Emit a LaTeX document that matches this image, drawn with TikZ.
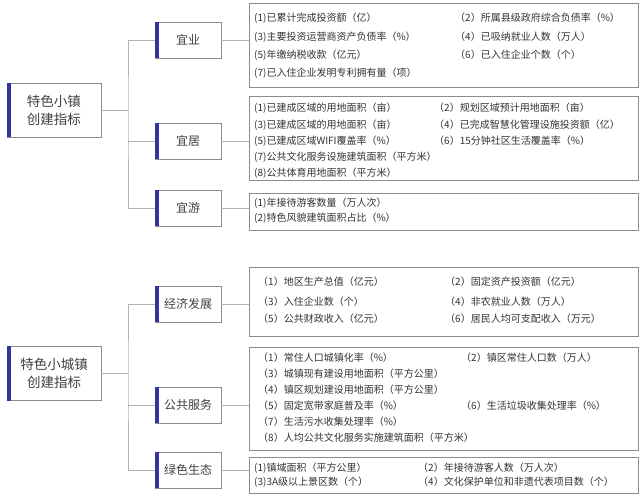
\documentclass[tikz,border=0pt]{standalone}
\usepackage{fontspec}
\setmainfont{Noto Sans CJK SC}
\begin{document}
\begin{tikzpicture}[x=1pt,y=-1pt,
  lnk/.style={draw=black!30,line width=0.8pt},
  cat/.style={draw=black!45,line width=0.6pt,fill=white,minimum width=66pt,minimum height=36pt,inner sep=0pt,font=\fontsize{12}{13}\selectfont,text=black!75},
  rootn/.style={draw=black!45,line width=0.6pt,fill=white,minimum width=94pt,inner sep=0pt,align=center,font=\fontsize{13.5}{18}\selectfont,text=black!75},
  det/.style={draw=black!45,line width=0.8pt,inner sep=0pt},
  it/.style={anchor=west,inner sep=0pt,font=\fontsize{10}{10}\selectfont,text=black!80},
  bar/.style={fill=blue!55!black!80,draw=none}]
\useasboundingbox (0,0) rectangle (640,498);
% ---------- top ----------
\node[rootn,minimum height=54pt] (r1) at (54,110) {特色小镇\\创建指标};
\node[cat] (c1) at (188,40) {宜业};
\node[cat] (c2) at (188,141) {宜居};
\node[cat] (c3) at (188,208) {宜游};
\foreach \n in {r1,c1,c2,c3}{\fill[bar] (\n.north west) rectangle ([xshift=4.5pt]\n.south west);}
\node[det,minimum width=389pt,minimum height=84pt] (d1) at (443.5,45) {};
\node[det,minimum width=389pt,minimum height=84pt] (d2) at (443.5,138) {};
\node[det,minimum width=389pt,minimum height=37pt] (d3) at (443.5,211.5) {};
\coordinate (t1) at (128,110);
\draw[lnk] (r1.east) -- (t1);
\draw[lnk] (c1.west) -| (t1) |- (c3.west);
\draw[lnk] (c2.west) -- (c2.west -| t1);
\draw[lnk] (c1.east) -- (c1.east -| d1.west);
\draw[lnk] (c2.east) -- (c2.east -| d2.west);
\draw[lnk] (c3.east) -- (c3.east -| d3.west);
\node[it] (a1) at (254,18) {(1)已累计完成投资额（亿）};
\node[it] (a2) at (455,18) {（2）所属县级政府综合负债率（\%）};
\node[it] (a3) at (254,37) {(3)主要投资运营商资产负债率（\%）};
\node[it] (a4) at (455,37) {（4）已吸纳就业人数（万人）};
\node[it] (a5) at (254,55) {(5)年缴纳税收款（亿元）};
\node[it] (a6) at (455,55) {（6）已入住企业个数（个）};
\node[it] (a7) at (254,73) {(7)已入住企业发明专利拥有量（项）};
\node[it] (b1) at (254,108) {(1)已建成区域的用地面积（亩）};
\node[it] (b2) at (434,108) {（2）规划区域预计用地面积（亩）};
\node[it] (b3) at (254,125) {(3)已建成区域的用地面积（亩）};
\node[it] (b4) at (434,125) {（4）已完成智慧化管理设施投资额（亿）};
\node[it] (b5) at (254,141) {(5)已建成区域WIFI覆盖率（\%）};
\node[it] (b6) at (434,141) {（6）15分钟社区生活覆盖率（\%）};
\node[it] (b7) at (254,157) {(7)公共文化服务设施建筑面积（平方米）};
\node[it] (b8) at (254,173) {(8)公共体育用地面积（平方米）};
\node[it] (e1) at (254,203) {(1)年接待游客数量（万人次）};
\node[it] (e2) at (254,218) {(2)特色风貌建筑面积占比（\%）};
% ---------- bottom ----------
\node[rootn,minimum height=54pt] (r2) at (54,373.5) {特色小城镇\\创建指标};
\node[cat] (g1) at (188,304) {经济发展};
\node[cat] (g2) at (188,405) {公共服务};
\node[cat] (g3) at (188,470) {绿色生态};
\foreach \n in {r2,g1,g2,g3}{\fill[bar] (\n.north west) rectangle ([xshift=4.5pt]\n.south west);}
\node[det,minimum width=389pt,minimum height=69pt] (f1) at (443.5,301.5) {};
\node[det,minimum width=389pt,minimum height=103pt] (f2) at (443.5,398.5) {};
\node[det,minimum width=389pt,minimum height=36pt] (f3) at (443.5,475) {};
\coordinate (t2) at (128,373.5);
\draw[lnk] (r2.east) -- (t2);
\draw[lnk] (g1.west) -| (t2) |- (g3.west);
\draw[lnk] (g2.west) -- (g2.west -| t2);
\draw[lnk] (g1.east) -- (g1.east -| f1.west);
\draw[lnk] (g2.east) -- (g2.east -| f2.west);
\draw[lnk] (g3.east) -- (g3.east -| f3.west);
\node[it] (h1) at (258,282) {（1）地区生产总值（亿元）};
\node[it] (h2) at (445,282) {（2）固定资产投资额（亿元）};
\node[it] (h3) at (258,302) {（3）入住企业数（个）};
\node[it] (h4) at (445,302) {（4）非农就业人数（万人）};
\node[it] (h5) at (258,319) {（5）公共财政收入（亿元）};
\node[it] (h6) at (445,319) {（6）居民人均可支配收入（万元）};
\node[it] (k1) at (258,358) {（1）常住人口城镇化率（\%）};
\node[it] (k2) at (461,358) {（2）镇区常住人口数（万人）};
\node[it] (k3) at (258,374) {（3）城镇现有建设用地面积（平方公里）};
\node[it] (k4) at (258,390) {（4）镇区规划建设用地面积（平方公里）};
\node[it] (k5) at (258,406) {（5）固定宽带家庭普及率（\%）};
\node[it] (k6) at (461,406) {（6）生活垃圾收集处理率（\%）};
\node[it] (k7) at (258,422) {（7）生活污水收集处理率（\%）};
\node[it] (k8) at (258,438) {（8）人均公共文化服务实施建筑面积（平方米）};
\node[it] (m1) at (254,468) {(1)镇域面积（平方公里）};
\node[it] (m2) at (418,468) {（2）年接待游客人数（万人次）};
\node[it] (m3) at (254,482) {(3)3A级以上景区数（个）};
\node[it] (m4) at (418,482) {（4）文化保护单位和非遗代表项目数（个）};
\end{tikzpicture}
\end{document}
